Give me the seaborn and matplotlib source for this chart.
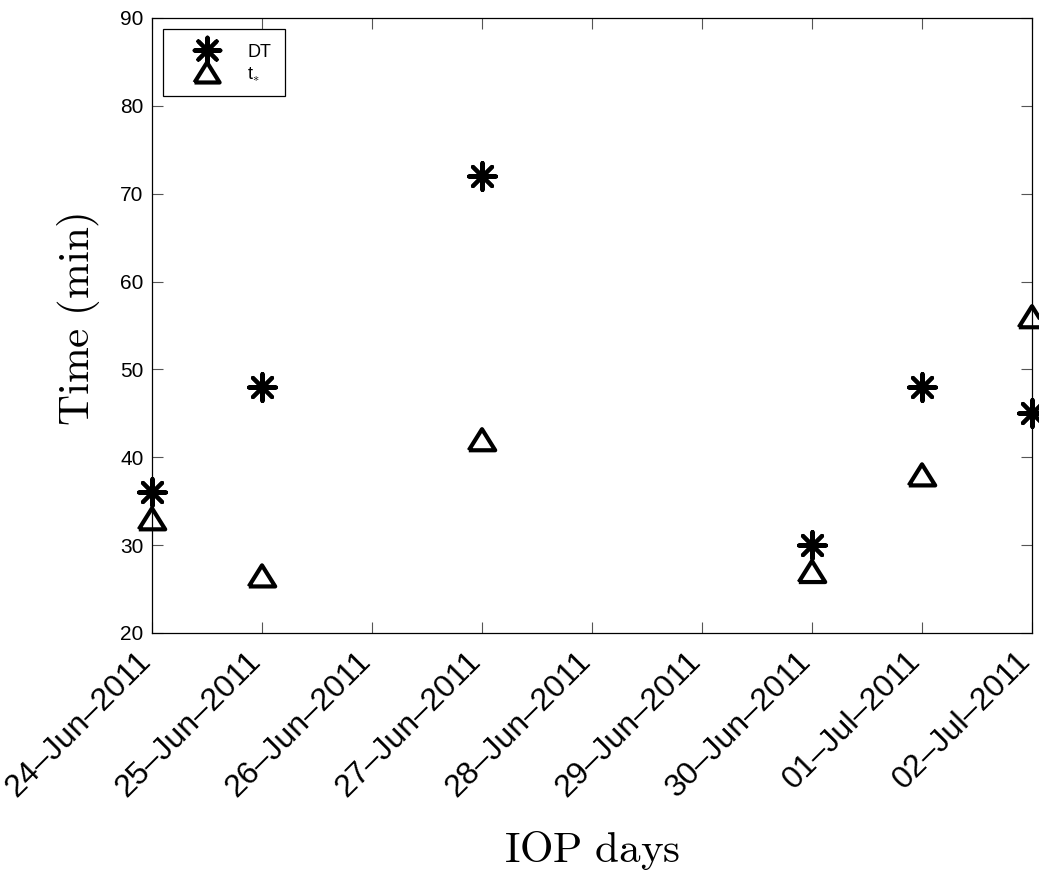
import matplotlib
matplotlib.use("Agg")
import matplotlib.pyplot as plt
import matplotlib.dates as mdates
import seaborn as sns
import pandas as pd

# Observation days and the two time scales (minutes)
days = ["2011-06-24", "2011-06-25", "2011-06-27", "2011-06-30", "2011-07-01", "2011-07-02"]
dt_minutes = [36, 48, 72, 30, 48, 45]
tstar_minutes = [33, 26.5, 42, 27, 38, 56]
tick_days = ["2011-06-24", "2011-06-25", "2011-06-26", "2011-06-27", "2011-06-28",
             "2011-06-29", "2011-06-30", "2011-07-01", "2011-07-02"]
y_ticks = [20, 30, 40, 50, 60, 70, 80, 90]

sns.set_theme(style="ticks")
plt.rcParams["font.family"] = ["Liberation Sans", "DejaVu Sans"]
plt.rcParams["mathtext.fontset"] = "cm"
plt.rcParams["text.color"] = "black"
plt.rcParams["axes.labelcolor"] = "black"

df = pd.DataFrame({
    "day": pd.to_datetime(days),
    "DT": dt_minutes,
    "tstar": tstar_minutes,
})

fig = plt.figure(figsize=(10.39, 8.71), dpi=100)
ax = fig.add_axes([152 / 1039, 1 - 633 / 871, 880 / 1039, 615 / 871])

asterisk = (8, 2, 0)
triangle = [(-1, -0.8), (1, -0.8), (0, 0.8), (-1, -0.8)]

sns.scatterplot(data=df, x="day", y="DT", marker=asterisk, s=19.5 ** 2,
                color="black", linewidth=2.9, ax=ax, label="DT", clip_on=False, zorder=3)
sns.scatterplot(data=df, x="day", y="tstar", marker=triangle, s=19 ** 2,
                facecolor="none", edgecolor="black", linewidth=3.0, ax=ax,
                label=r"t$_{*}$", clip_on=False, zorder=3)

ticks = pd.to_datetime(tick_days)
ax.set_xlim(ticks[0], ticks[-1])
ax.set_ylim(20, 90)
ax.set_xticks(ticks)
ax.xaxis.set_major_formatter(mdates.DateFormatter("%d\u2013%b\u2013%Y"))
ax.set_yticks(y_ticks)

for side in ["top", "right", "left", "bottom"]:
    ax.spines[side].set_visible(True)
    ax.spines[side].set_linewidth(0.9)
    ax.spines[side].set_color("black")

ax.tick_params(direction="in", length=8, width=0.8, color="#555555",
               top=True, right=True, labelcolor="black")
ax.tick_params(axis="y", labelsize=15, pad=6)
ax.tick_params(axis="x", labelsize=23, pad=21)
for lbl in ax.get_xticklabels():
    lbl.set_rotation(45)
    lbl.set_ha("right")
    lbl.set_va("baseline")
    lbl.set_rotation_mode("anchor")

ax.set_xlabel(r"$\mathrm{IOP\ days}$", fontsize=31)
ax.xaxis.set_label_coords(0.5, -0.318)
ax.set_ylabel(r"$\mathrm{Time\ (min)}$", fontsize=31)
ax.yaxis.set_label_coords(-0.057, 0.51)

leg = ax.legend(loc="upper left", bbox_to_anchor=(11 / 880, 1 - 11 / 615, 122 / 880, 0),
                mode="expand", fontsize=13, frameon=True, fancybox=False,
                edgecolor="black", framealpha=1, borderpad=0.72, labelspacing=0.15,
                handleheight=1.2, handlelength=3.44, handletextpad=0.5,
                borderaxespad=0, markerscale=0.95)
leg.get_frame().set_linewidth(0.9)
for txt in leg.get_texts():
    txt.set_color("black")

fig.savefig("out.png", dpi=100)
